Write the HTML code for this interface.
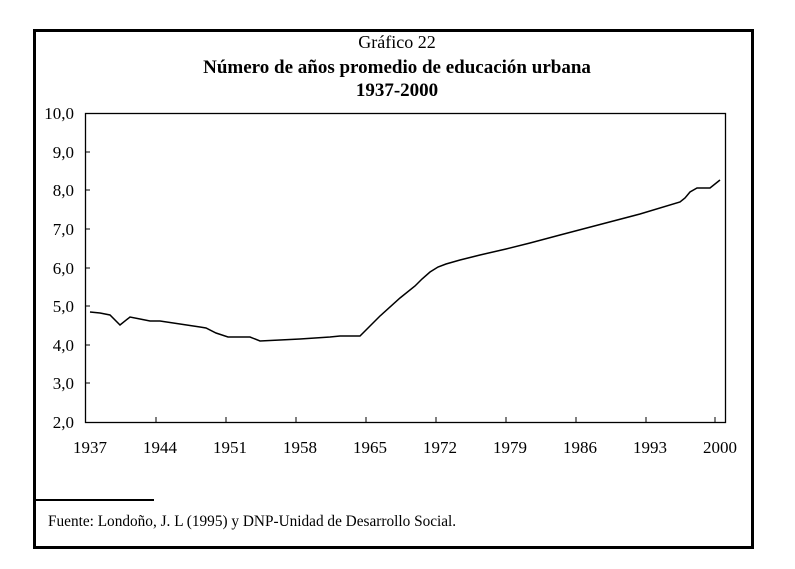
<!DOCTYPE html>
<html><head><meta charset="utf-8"><style>body{margin:0;background:#fff}</style></head><body>
<svg width="795" height="564" xmlns="http://www.w3.org/2000/svg" font-family="Liberation Serif, serif">
<rect x="0" y="0" width="795" height="564" fill="#fff"/>
<rect x="34.5" y="30.5" width="718" height="517" fill="none" stroke="#000" stroke-width="3"/>
<text x="397" y="48" font-size="18" text-anchor="middle">Gráfico 22</text>
<text x="397" y="73" font-size="19" font-weight="bold" text-anchor="middle">Número de años promedio de educación urbana</text>
<text x="397" y="96" font-size="19" font-weight="bold" text-anchor="middle">1937-2000</text>
<rect x="85.5" y="113.5" width="640" height="309" fill="none" stroke="#000" stroke-width="1.3"/>
<g stroke="#000" stroke-width="1">
<line x1="85" y1="152" x2="90" y2="152"/><line x1="85" y1="190" x2="90" y2="190"/><line x1="85" y1="229" x2="90" y2="229"/>
<line x1="85" y1="268" x2="90" y2="268"/><line x1="85" y1="306" x2="90" y2="306"/><line x1="85" y1="345" x2="90" y2="345"/><line x1="85" y1="383" x2="90" y2="383"/>
<line x1="156" y1="417" x2="156" y2="422"/><line x1="226" y1="417" x2="226" y2="422"/><line x1="296" y1="417" x2="296" y2="422"/>
<line x1="366" y1="417" x2="366" y2="422"/><line x1="436" y1="417" x2="436" y2="422"/><line x1="506" y1="417" x2="506" y2="422"/>
<line x1="576" y1="417" x2="576" y2="422"/><line x1="646" y1="417" x2="646" y2="422"/><line x1="715" y1="417" x2="715" y2="422"/>
</g>
<g font-size="17" text-anchor="end">
<text x="74" y="119">10,0</text><text x="74" y="158">9,0</text><text x="74" y="196">8,0</text><text x="74" y="235">7,0</text>
<text x="74" y="274">6,0</text><text x="74" y="312">5,0</text><text x="74" y="351">4,0</text><text x="74" y="389">3,0</text><text x="74" y="428">2,0</text>
</g>
<g font-size="17" text-anchor="middle">
<text x="90" y="453">1937</text><text x="160" y="453">1944</text><text x="230" y="453">1951</text><text x="300" y="453">1958</text>
<text x="370" y="453">1965</text><text x="440" y="453">1972</text><text x="510" y="453">1979</text><text x="580" y="453">1986</text>
<text x="650" y="453">1993</text><text x="720" y="453">2000</text>
</g>
<polyline fill="none" stroke="#000" stroke-width="1.5" points="90,312 100,313 110,315 120,325 130,317 140,319 150,321 160,321 180,324 200,327 206,328 216,333 228,337 250,337 260,341 280,340 300,339 330,337 340,336 360,336 380,316 400,298 415,286 422,279 430,272 438,267 446,264 460,260 480,255 506,249 530,243 560,235 600,224.5 640,214 680,202 685,198 690,192 697,188 710,188 720,180"/>
<line x1="33" y1="500" x2="154" y2="500" stroke="#000" stroke-width="2"/>
<text x="48" y="526" font-size="15.3">Fuente: Londoño, J. L (1995) y DNP-Unidad de Desarrollo Social.</text>
</svg>
</body></html>
